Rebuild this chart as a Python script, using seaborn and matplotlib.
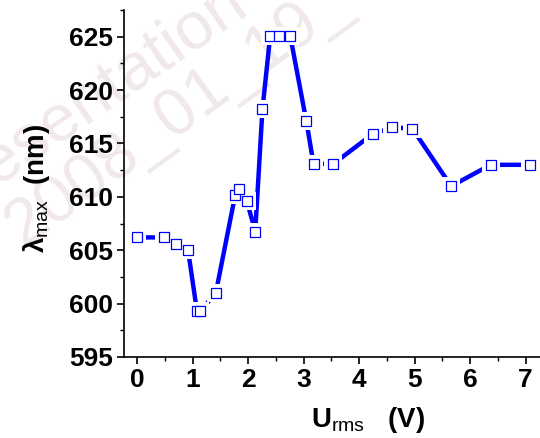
import matplotlib
matplotlib.use("Agg")
import matplotlib.pyplot as plt
import seaborn as sns
import pandas as pd
from matplotlib.ticker import MultipleLocator

# data
u_rms = [0.0, 0.49, 0.71, 0.92, 1.08, 1.14, 1.42, 1.77, 1.84, 1.98, 2.13, 2.26,
         2.40, 2.55, 2.76, 3.05, 3.18, 3.54, 4.25, 4.60, 4.96, 5.66, 6.37, 7.08]
lam_max = [606.2, 606.2, 605.6, 605.0, 599.3, 599.3, 601.0, 610.2, 610.75, 609.6,
           606.75, 618.2, 625.1, 625.1, 625.1, 617.1, 613.1, 613.1, 615.9, 616.5,
           616.4, 611.0, 613.0, 613.0]
x_ticks = [0, 1, 2, 3, 4, 5, 6, 7]
y_ticks = [595, 600, 605, 610, 615, 620, 625]

df = pd.DataFrame({"U": u_rms, "lam": lam_max})

sns.set_theme(style="white")
plt.rcParams["font.family"] = ["Liberation Sans", "DejaVu Sans"]
plt.rcParams["text.color"] = "black"
plt.rcParams["axes.labelcolor"] = "black"
plt.rcParams["xtick.color"] = "black"
plt.rcParams["ytick.color"] = "black"
plt.rcParams["mathtext.fontset"] = "custom"
plt.rcParams["mathtext.rm"] = "Liberation Sans"
plt.rcParams["mathtext.bf"] = "Liberation Sans:bold"
plt.rcParams["mathtext.it"] = "Liberation Sans:italic"

fig = plt.figure(figsize=(5.4, 4.38), dpi=100)
fig.patch.set_facecolor("white")

# faint watermark (behind the axes)
wm = dict(color="#f1e9e9", fontsize=48, ha="left", va="baseline",
          zorder=-5, family="Liberation Sans")
fig.text(-0.159, 0.50, "Presentation", rotation=34.5, **wm)
fig.text(-0.01, 0.44, "2008_01_19_", rotation=36, **wm)

ax = fig.add_axes([124/540, 81/438, 416/540, 347/438])
ax.set_zorder(5)
ax.patch.set_alpha(0)

sns.lineplot(data=df, x="U", y="lam", sort=False, estimator=None, ax=ax,
             color="#0000ff", linewidth=3.2, zorder=2)
sns.scatterplot(data=df, x="U", y="lam", marker="s", s=150, color="white",
                linewidth=0, ax=ax, zorder=3)
sns.scatterplot(data=df, x="U", y="lam", marker="s", s=58, facecolor="white",
                edgecolor="#0000ff", linewidth=0.9, ax=ax, zorder=4)

ax.set_xlim(-0.234, 7.26)
ax.set_ylim(595, 627.5)
ax.set_xticks(x_ticks)
ax.set_yticks(y_ticks)
ax.xaxis.set_minor_locator(MultipleLocator(0.5))
ax.yaxis.set_minor_locator(MultipleLocator(2.5))

for s in ["top", "right"]:
    ax.spines[s].set_visible(False)
for s in ["left", "bottom"]:
    ax.spines[s].set_color("black")
    ax.spines[s].set_linewidth(1.2)

ax.tick_params(which="major", direction="out", length=5, width=1.2,
               color="black", labelcolor="black", labelsize=19, pad=3,
               left=True, bottom=True)
ax.tick_params(which="minor", direction="out", length=3, width=1.0,
               color="black", left=True, bottom=True)
for lab in ax.get_xticklabels() + ax.get_yticklabels():
    lab.set_fontweight("bold")

ax.set_xlabel(r"U$_{\mathrm{rms}}$   (V)", fontsize=20, fontweight="bold")
ax.xaxis.set_label_coords(0.587, -0.203)
ax.xaxis.label.set_va("baseline")
ax.set_ylabel(r"λ$_{\mathrm{max}}$  (nm)", fontsize=20, fontweight="bold")
ax.yaxis.set_label_coords(-0.21, 0.487)
ax.yaxis.label.set_va("center")

fig.savefig("out.png", dpi=100, facecolor="white")
